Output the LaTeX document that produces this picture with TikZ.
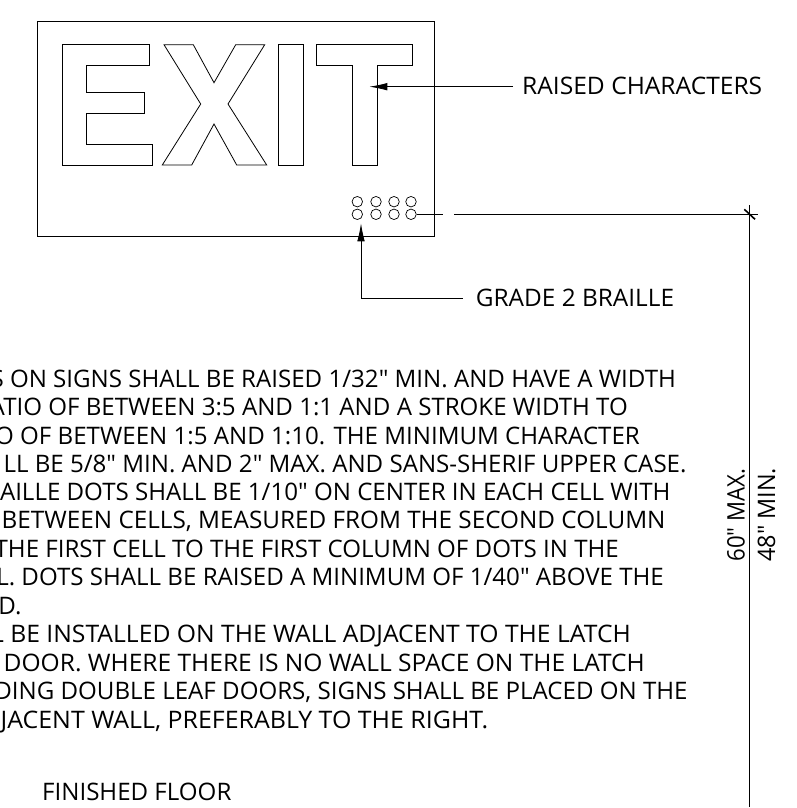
\documentclass[tikz,border=0pt]{standalone}
\usepackage{fontspec}
\newfontfamily\notefont{Open Sans}
\usetikzlibrary{arrows.meta}
\begin{document}
\begin{tikzpicture}[x=1pt,y=-1pt]

	\tikzset{outline/.style={draw, line width=.8pt, line join=miter}}
	\tikzset{brailledot/.style={draw, circle, inner sep=0pt, minimum size=10.5pt, line width=.7pt}}
	\tikzset{leader/.style={draw, line width=.8pt, -{Latex[length=18pt,width=7.5pt]}}}
	\tikzset{dimline/.style={draw, line width=.8pt}}
	\tikzset{note/.style={inner sep=0pt, font=\notefont\fontsize{24.1}{25}\selectfont}}

	\useasboundingbox (0,0) rectangle (796,808);

%% Sign
	\draw[outline] (37.3,21) rectangle (434.3,236.7);
	\draw[outline] (62.3,44.7) -- (149.3,44.7) -- (149.3,65.3) -- (86.7,65.3) -- (86.7,92.7) -- (144.7,92.7) -- (144.7,113.3) -- (86.7,113.3) -- (86.7,144.3) -- (152,144.3) -- (152,165) -- (62.3,165) -- cycle;
	\draw[outline] (164,44.7) -- (193.3,44.7) -- (214,82.7) -- (235.7,44.7) -- (264.7,44.7) -- (228,104) -- (266.7,165) -- (236.7,165) -- (214,124) -- (191.7,165) -- (162.3,165) -- (200.7,104) -- cycle;
	\draw[outline] (278.3,44.7) rectangle (303.7,165);
	\draw[outline] (316,44.7) -- (412,44.7) -- (412,65.3) -- (377.3,65.3) -- (377.3,165) -- (352,165) -- (352,65.3) -- (316,65.3) -- cycle;

%% Braille
	\node[brailledot] (d1) at (357.3,201.7) {};
	\node[brailledot] (d2) at (376,201.7) {};
	\node[brailledot] (d3) at (394,201.7) {};
	\node[brailledot] (d4) at (411,201.7) {};
	\node[brailledot] (d5) at (357.3,214.3) {};
	\node[brailledot] (d6) at (376,214.3) {};
	\node[brailledot] (d7) at (394,214.3) {};
	\node[brailledot] (d8) at (411,214.3) {};

%Labels
	\node[note, anchor=base west] (raised) at (522,94) {\scalebox{1.02}[1]{RAISED CHARACTERS}};
	\node[note, anchor=base west] (grade) at (475.7,306.7) {\scalebox{1.012}[1]{GRADE 2 BRAILLE}};
	\node[note, anchor=base west] (floor) at (42,800) {FINISHED FLOOR};
	\node[note, anchor=base west, rotate=90] (max) at (744.5,561.7) {\scalebox{.92}[1]{60" MAX.}};
	\node[note, anchor=base west, rotate=90] (min) at (775,561.7) {\scalebox{.97}[1]{48" MIN.}};

%Text
	\node[note, anchor=base east] (l1) at (676,387) {S ON SIGNS SHALL BE RAISED 1/32" MIN. AND HAVE A WIDTH};
	\node[note, anchor=base east] (l2) at (628,415.5) {ATIO OF BETWEEN 3:5 AND 1:1 AND A STROKE WIDTH TO};
	\node[note, anchor=base east] (l3) at (640,444) {O OF BETWEEN 1:5 AND 1:10.  THE MINIMUM CHARACTER};
	\node[note, anchor=base east] (l4) at (686.7,472.5) {LL BE 5/8" MIN. AND 2" MAX. AND SANS-SHERIF UPPER CASE.};
	\node[note, anchor=base east] (l5) at (670.7,500.7) {AILLE DOTS SHALL BE 1/10" ON CENTER IN EACH CELL WITH};
	\node[note, anchor=base east] (l6) at (665.7,528.5) {\scalebox{1.008}[1]{BETWEEN CELLS, MEASURED FROM THE SECOND COLUMN}};
	\node[note, anchor=base east] (l7) at (619,557) {THE FIRST CELL TO THE FIRST COLUMN OF DOTS IN THE};
	\node[note, anchor=base east] (l8) at (664,585.7) {LL. DOTS SHALL BE RAISED A MINIMUM OF 1/40" ABOVE THE};
	\node[note, anchor=base east] (l9) at (21.7,614) {D.};
	\node[note, anchor=base east] (l10) at (631,642.7) {\scalebox{1.025}[1]{L BE INSTALLED ON THE WALL ADJACENT TO THE LATCH}};
	\node[note, anchor=base east] (l11) at (645,671) {\scalebox{1.019}[1]{E DOOR. WHERE THERE IS NO WALL SPACE ON THE LATCH}};
	\node[note, anchor=base east] (l12) at (687.7,699.5) {DING DOUBLE LEAF DOORS, SIGNS SHALL BE PLACED ON THE};
	\node[note, anchor=base east] (l13) at (488.6,728) {\scalebox{1.035}[1]{JACENT WALL, PREFERABLY TO THE RIGHT.}};

%Connectors
	\coordinate (raisedend) at (513,86.7);
	\coordinate (raisedtip) at (369.3,86.7);
	\coordinate (gradeend) at (462.7,298.3);
	\coordinate (gradecorner) at (361,298.3);
	\coordinate (gradetip) at (361,223.3);
	\coordinate (dimgap) at (443,214.3);
	\coordinate (dimstart) at (454,214.3);
	\coordinate (dimover) at (758.3,214.3);
	\coordinate (dimtop) at (749.3,205);
	\coordinate (dimfloor) at (749.3,807);
	\coordinate (ticka) at (744.3,209.3);
	\coordinate (tickb) at (755,219.3);

	\path[leader] (raisedend) -- (raisedtip);
	\path[leader] (gradeend) -- (gradecorner) -- (gradetip);
	\path[dimline] (d8) -- (dimgap);
	\path[dimline] (dimstart) -- (dimover);
	\path[dimline] (dimtop) -- (dimfloor);
	\draw[line width=1.6pt] (ticka) -- (tickb);
\end{tikzpicture}
\end{document}
